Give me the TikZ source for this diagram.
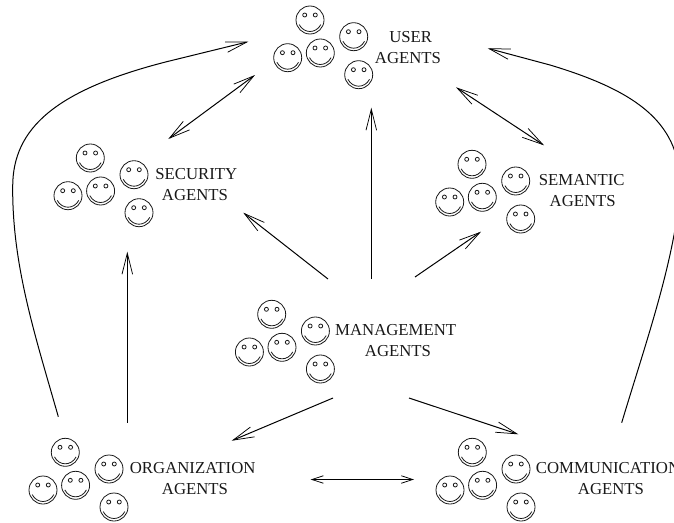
\documentclass[tikz,border=0pt]{standalone}
\usepackage{fontspec}
\setmainfont{Liberation Serif}
\usetikzlibrary{arrows.meta}
\tikzset{
  x=1pt,y=-1pt,
  facelines/.style={line width=0.8pt,black!90},
  label text/.style={anchor=base,inner sep=0pt,font=\fontsize{16.75}{18}\selectfont,text=black!90},
  barb/.tip={Straight Barb[length=21pt,width=10.6pt,line width=0.75pt]},
  smallbarb/.tip={Straight Barb[length=11.5pt,width=7.5pt,line width=0.75pt]},
  oneway/.style={line width=1pt,-{barb}},
  twoway/.style={line width=1pt,{barb}-{barb}},
  shorttwoway/.style={line width=1pt,{smallbarb}-{smallbarb}},
  pics/smiley/.style={code={
    \draw[facelines] (0,0) circle (14);
    \draw[facelines] (-5.3,-5) circle (2);
    \draw[facelines] (5.3,-5) circle (2);
    \draw[facelines] (-10.8,4.6) .. controls (-6,13.8) and (6,13.8) .. (10.8,4.6);
  }},
  pics/agentgroup/.style={code={
    \pic at (0,0) {smiley};
    \pic at (43.7,16.7) {smiley};
    \pic at (-22.3,37.7) {smiley};
    \pic at (10.3,33) {smiley};
    \pic at (48.7,54.7) {smiley};
  }},
}
\begin{document}
\begin{tikzpicture}
\useasboundingbox (0,0) rectangle (674,522);
\clip (0,0) rectangle (674,522);
% agent groups
\pic at (310,20) {agentgroup};
\pic at (90.3,158) {agentgroup};
\pic at (472,164.3) {agentgroup};
\pic at (271.7,314.3) {agentgroup};
\pic at (65.3,452.3) {agentgroup};
\pic at (472.3,452.3) {agentgroup};
% labels
\node[label text] (userA) at (410.7,42.2) {USER};
\node[label text] (userB) at (408,63) {AGENTS};
\node[label text] (secA) at (196.3,179) {SECURITY};
\node[label text] (secB) at (195,200) {AGENTS};
\node[label text] (semA) at (581.7,185.5) {SEMANTIC};
\node[label text] (semB) at (582.7,206.5) {AGENTS};
\node[label text] (mgmtA) at (395.7,335.5) {MANAGEMENT};
\node[label text] (mgmtB) at (398,356.5) {AGENTS};
\node[label text] (orgA) at (192.7,473.5) {ORGANIZATION};
\node[label text] (orgB) at (195,494.5) {AGENTS};
\node[label text,anchor=base west] (comA) at (535.7,473.5) {COMMUNICATION};
\node[label text] (comB) at (611,494.5) {AGENTS};
% connector end points
\coordinate (uSec) at (255,75);
\coordinate (sUser) at (168.3,139);
\coordinate (uSem) at (456,87.3);
\coordinate (semU) at (544,145.3);
\coordinate (uMg) at (371.3,107.7);
\coordinate (mU) at (371.3,279);
\coordinate (mSec) at (328,279);
\coordinate (sMg) at (243.3,212.7);
\coordinate (mSem) at (415,277);
\coordinate (semM) at (481,231.7);
\coordinate (mOrg) at (333,398);
\coordinate (oMg) at (231.7,440.7);
\coordinate (mCom) at (409,398);
\coordinate (cMg) at (518.3,434.3);
\coordinate (oSecS) at (127.3,422.7);
\coordinate (sOrg) at (127.3,251.7);
\coordinate (oCom) at (310.7,479.5);
\coordinate (cOrg) at (414,479.5);
\coordinate (oUser) at (58.3,416.7);
\coordinate (uOrg) at (248.3,41.7);
\coordinate (cUser) at (621.7,422.7);
\coordinate (uCom) at (487.7,48.3);
% connectors
\draw[twoway] (sUser) -- (uSec);
\draw[twoway] (uSem) -- (semU);
\draw[shorttwoway] (oCom) -- (cOrg);
\draw[oneway] (mU) -- (uMg);
\draw[oneway] (mSec) -- (sMg);
\draw[oneway] (mSem) -- (semM);
\draw[oneway] (mOrg) -- (oMg);
\draw[oneway] (mCom) -- (cMg);
\draw[oneway] (oSecS) -- (sOrg);
\draw[oneway] (oUser) .. controls (35,335) and (12,265) .. (12.7,186)
   .. controls (13,128) and (56,90) .. (166.7,61.7) -- (uOrg);
\draw[oneway] (cUser) .. controls (645,345) and (675,260) .. (680,190)
   .. controls (682,125) and (640,92) .. (550,65) -- (uCom);
\end{tikzpicture}
\end{document}
